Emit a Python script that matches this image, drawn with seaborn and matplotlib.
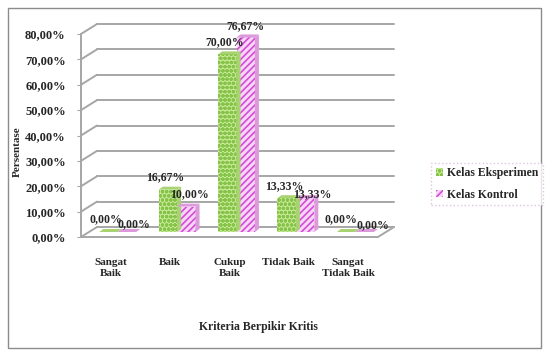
import numpy as np
import pandas as pd
import matplotlib
matplotlib.use("Agg")
import matplotlib.pyplot as plt
from matplotlib.patches import Rectangle, Patch
import seaborn as sns

# data
kriteria = ["Sangat\nBaik", "Baik", "Cukup\nBaik", "Tidak Baik", "Sangat\nTidak Baik"]
eksperimen = [0.00, 16.67, 70.00, 13.33, 0.00]
kontrol = [0.00, 10.00, 76.67, 13.33, 0.00]
kelas = ["Kelas Eksperimen", "Kelas Kontrol"]
y_ticks = [0, 10, 20, 30, 40, 50, 60, 70, 80]

df = pd.DataFrame({
    "Kriteria": kriteria * 2,
    "Persen": eksperimen + kontrol,
    "Kelas": [kelas[0]] * 5 + [kelas[1]] * 5,
})

sns.set_style("white")
plt.rcParams["font.family"] = ["Liberation Serif", "DejaVu Serif"]
plt.rcParams["font.weight"] = "bold"
plt.rcParams["hatch.linewidth"] = 1.2

DPI = 100
fig = plt.figure(figsize=(5.49, 3.56), dpi=DPI)
W, H = 549, 356
ax = fig.add_axes([81 / W, 1 - 237 / H, (378 - 81) / W, (237 - 34) / H])

# outer chart border
fig.patches.append(Rectangle((8 / W, 8 / H), 533 / W, 340 / H, transform=fig.transFigure,
                             fill=False, edgecolor="#8c8c8c", lw=1))

green_face, green_hatch, green_side = "#c8ea96", "#86c34a", "#a9d372"
pink_face, pink_hatch, pink_side = "#f7d6f7", "#d54cd5", "#dc9adc"

# 3d depth offsets, in data units
px_x = (378 - 81) / 5
px_y = (237 - 34) / 80
dx, dy = 16 / px_x, 10 / px_y
grid_c = "#a6a6a6"

for yt in y_ticks:
    ax.plot([-0.5 + dx, 4.5 + dx], [yt + dy, yt + dy], color=grid_c, lw=1.4, clip_on=False, zorder=0)
    ax.plot([-0.5, -0.5 + dx], [yt, yt + dy], color=grid_c, lw=1.4, clip_on=False, zorder=0)
# floor front and right edges, y axis
ax.plot([-0.5, 4.5, 4.5 + dx], [0, 0, dy], color=grid_c, lw=1.4, clip_on=False, zorder=0)
ax.plot([-0.5, -0.5], [0, 80], color=grid_c, lw=1.4, clip_on=False, zorder=0)

sns.barplot(data=df, x="Kriteria", y="Persen", hue="Kelas", ax=ax, width=0.62,
            palette=[green_face, pink_face], saturation=1, legend=False, zorder=3)

# bars sit half way into the depth
bx, by = 7 / px_x, 5 / px_y
sx, sy = 4 / px_x, 3 / px_y   # bar depth
styles = [("oooo", green_hatch, green_side), ("/////", pink_hatch, pink_side)]
# label nudges (points): pink labels sit a bit lower/right like the original
nudges = [[(-2, 9), (-2, 9), (-2, 9), (-2, 9), (-4, 9)],
          [(5, 6), (2, 9), (0, 8), (5, 3), (6, 5)]]
for k, (cont, (h, hc, sc)) in enumerate(zip(ax.containers, styles)):
    for i, bar in enumerate(cont):
        x0 = bar.get_x() + bx
        w = bar.get_width()
        v = bar.get_height()
        bar.set_x(x0)
        bar.set_y(by)
        bar.set_hatch(h)
        bar.set_edgecolor(hc)
        bar.set_linewidth(0)
        bar.set_clip_on(False)
        x1 = x0 + w
        # side and top faces
        ax.fill([x1, x1 + sx, x1 + sx, x1], [by, by + sy, by + v + sy, by + v],
                color=sc, lw=0, clip_on=False, zorder=3)
        ax.fill([x0, x1, x1 + sx, x0 + sx], [by + v, by + v, by + v + sy, by + v + sy],
                facecolor=sc, lw=0, clip_on=False, zorder=3)
        ax.annotate(f"{v:.2f}%".replace(".", ","), (x0 + w / 2, by + v),
                    xytext=nudges[k][i], textcoords="offset points", ha="center", va="center",
                    fontsize=8.5, fontweight="bold", zorder=5, annotation_clip=False)

ax.set_xlim(-0.5, 4.5)
ax.set_ylim(0, 80)
ax.set_yticks(y_ticks)
ax.set_yticklabels([f"{t:.2f}%".replace(".", ",") for t in y_ticks], fontsize=9, fontweight="bold")
ax.tick_params(axis="y", length=3, color=grid_c, pad=8, left=True)
ax.tick_params(axis="x", length=0, pad=15, labelsize=8)
for lab in ax.get_xticklabels():
    lab.set_fontweight("bold")
    lab.set_linespacing(1.3)
ax.set_xlabel("")
ax.set_ylabel("")
for s in ax.spines.values():
    s.set_visible(False)
ax.patch.set_alpha(0)

fig.text(17 / W, 1 - 152 / H, "Persentase", rotation=90, ha="center", va="center",
         fontsize=8, fontweight="bold")
fig.text(258 / W, 1 - 327 / H, "Kriteria Berpikir Kritis", ha="center", va="center",
         fontsize=8.5, fontweight="bold")

handles = [Patch(facecolor=green_face, edgecolor=green_hatch, hatch="oooo", lw=0),
           Patch(facecolor=pink_face, edgecolor=pink_hatch, hatch="/////", lw=0)]
leg = fig.legend(handles, kelas, loc="center", bbox_to_anchor=(487 / W, 1 - 184 / H),
                 fontsize=8.5, frameon=True, handlelength=0.6, handleheight=0.6,
                 handletextpad=0.3, labelspacing=0.8, borderpad=0.4, fancybox=False)
leg.get_frame().set_edgecolor("#d8b8d8")
leg.get_frame().set_linestyle(":")
for t in leg.get_texts():
    t.set_fontweight("bold")

fig.savefig("out.png", dpi=DPI)
